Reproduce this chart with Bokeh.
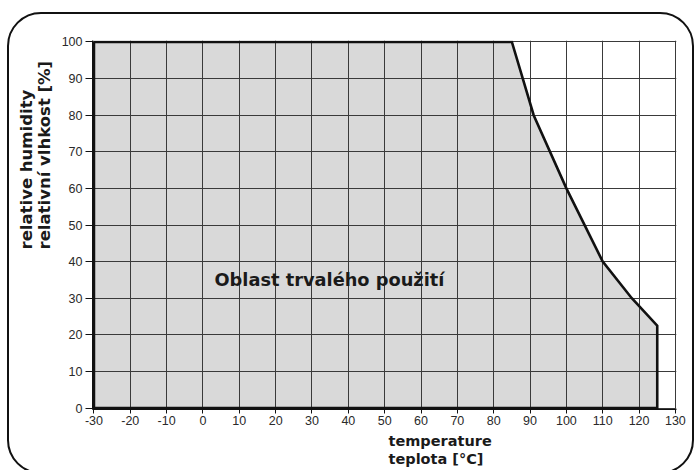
from bokeh.plotting import figure
from bokeh.models import Label, FixedTicker, Range1d, Title, InlineStyleSheet
from bokeh.embed import file_html
from bokeh.resources import INLINE

# ---- data ----
temperature = [-30, 85, 91, 100, 110, 118, 125, 125, -30]
humidity = [100, 100, 80, 60, 40, 30, 22.5, 0, 0]
x_ticks = [-30, -20, -10, 0, 10, 20, 30, 40, 50, 60, 70, 80, 90, 100, 110, 120, 130]
x_tick_labels = ["-30", "-20", "-10", "0", "10", "20", "30", "40", "50", "60", "70",
                 "80", "90", "100", "110", "120", "130"]
y_ticks = [0, 10, 20, 30, 40, 50, 60, 70, 80, 90, 100]
y_tick_labels = ["0", "10", "20", "30", "40", "50", "60", "70", "80", "90", "100"]
area_label = "Oblast trvalého použití"
x_label = "temperature\nteplota [°C]"
y_label = "relative humidity\nrelativní vlhkost [%]"

W, H = 694, 470
border_css = InlineStyleSheet(css="""
:host { position: relative; overflow: hidden; }
:host::after {
  content: "";
  position: absolute;
  left: 7px; top: 12px;
  width: 687px; height: 462px;
  box-sizing: border-box;
  border: 2.6px solid #111111;
  border-radius: 34px;
  pointer-events: none;
  z-index: 10;
}
""")

p = figure(width=W, height=H, output_backend="svg", toolbar_location=None,
           x_range=Range1d(-30.4, 130.3), y_range=Range1d(-0.4, 100.4),
           min_border_left=92, min_border_right=18, min_border_top=40, min_border_bottom=60)
p.stylesheets = [border_css]
p.outline_line_color = None
p.background_fill_color = "white"
p.border_fill_color = "white"

# fill area
p.patch(temperature, humidity, fill_color="#d9d9d9", line_color=None, level="image")
# outline
p.line(temperature + [temperature[0]], humidity + [humidity[0]],
       line_color="#111111", line_width=2.6, line_join="miter")

# axes
p.xaxis.ticker = FixedTicker(ticks=x_ticks)
p.yaxis.ticker = FixedTicker(ticks=y_ticks)
p.xaxis.major_label_overrides = dict(zip(x_ticks, x_tick_labels))
p.yaxis.major_label_overrides = dict(zip(y_ticks, y_tick_labels))
for ax in (p.xaxis, p.yaxis):
    ax.axis_line_color = "#111111"
    ax.axis_line_width = 1
    ax.major_tick_line_color = "#111111"
    ax.major_tick_in = 0
    ax.minor_tick_line_color = None
    ax.major_label_text_font = "Liberation Sans"
    ax.major_label_text_font_size = "12.5px"
    ax.major_label_text_color = "#2a2a2a"
p.xaxis.major_tick_out = 4
p.xaxis.major_label_standoff = 2
p.yaxis.major_tick_out = 7
p.yaxis.major_label_standoff = 3

for g in (p.xgrid, p.ygrid):
    g.grid_line_color = "#3a3a3a"
    g.grid_line_width = 1

# area label
p.add_layout(Label(x=34.8, y=35.1, text=area_label, text_align="center",
                   text_baseline="alphabetic", text_font="DejaVu Sans",
                   text_font_style="bold", text_font_size="17.8px", text_color="#1a1a1a"))

# axis titles
p.add_layout(Title(text=x_label, align="left", offset=296, standoff=7,
                   text_font="DejaVu Sans", text_font_style="bold",
                   text_font_size="14.5px", text_color="#1a1a1a",
                   text_line_height=1.1), "below")
p.add_layout(Title(text=y_label, align="left", offset=160, standoff=8,
                   text_font="DejaVu Sans", text_font_style="bold",
                   text_font_size="16.5px", text_color="#1a1a1a",
                   text_line_height=0.95), "left")

open("out.html", "w").write(file_html(p, INLINE))
